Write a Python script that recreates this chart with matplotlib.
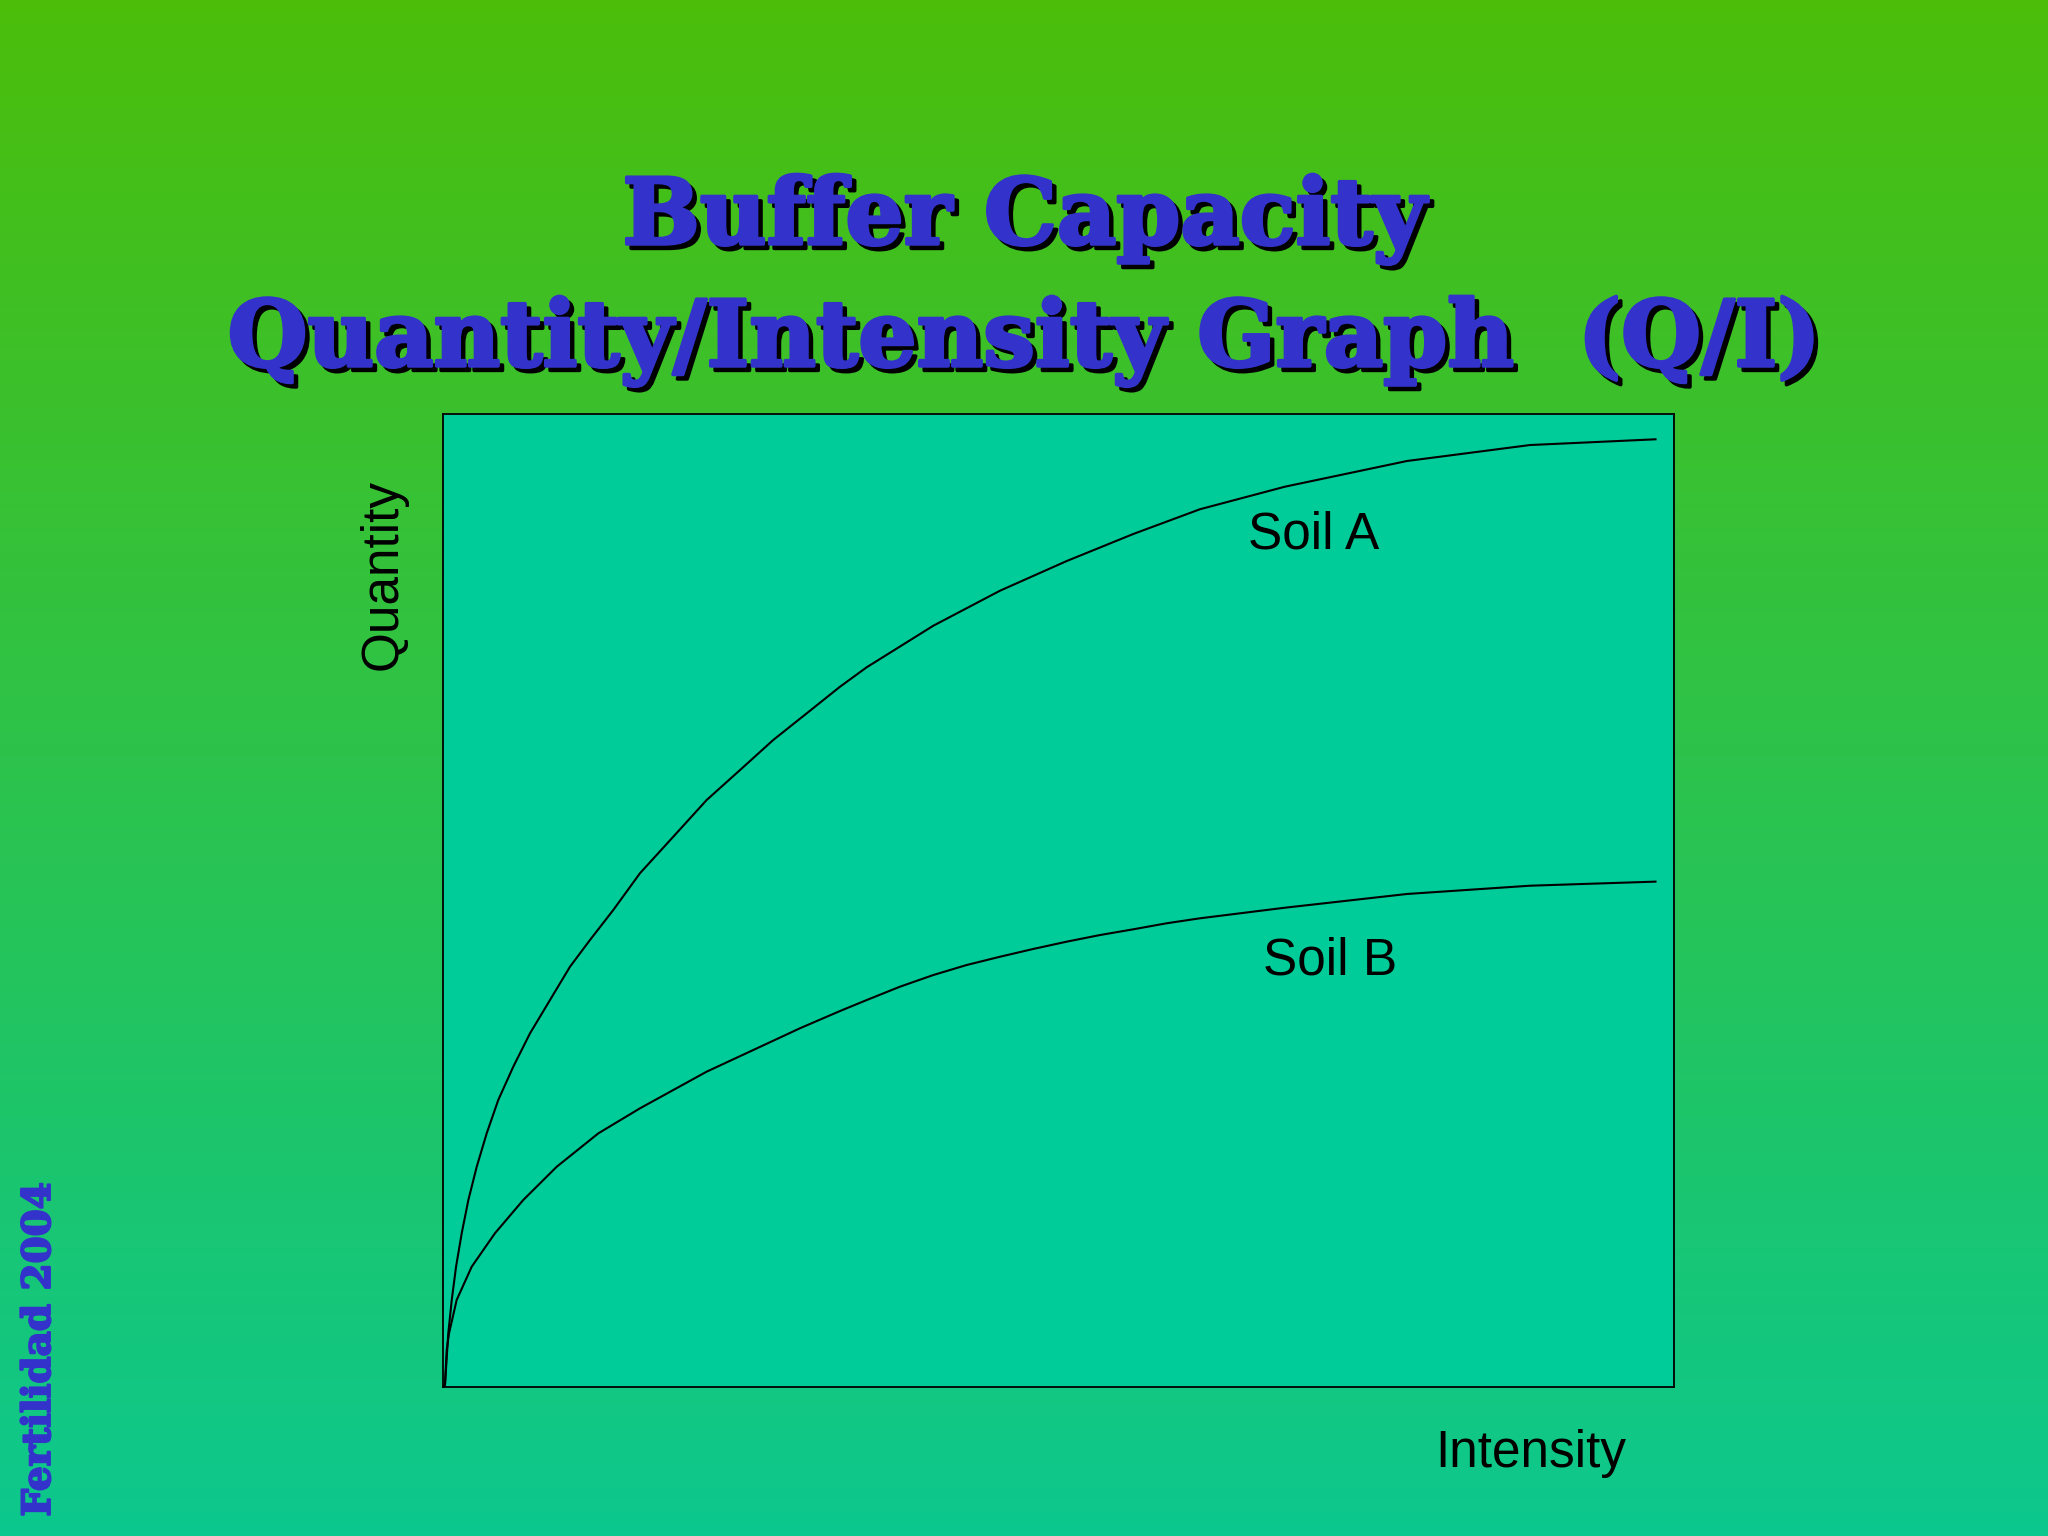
import matplotlib
matplotlib.use('Agg')
import matplotlib.pyplot as plt
import matplotlib.patheffects as pe
import numpy as np
from matplotlib.colors import LinearSegmentedColormap

# Q/I curves (intensity 0-100, quantity 0-100 of the box)
soil_a_x = [0, 0.16, 0.43, 0.71, 1.06, 1.52, 2.06, 2.74, 3.55, 4.49, 5.71, 7.07, 8.69,
            10.32, 11.94, 13.83, 16.00, 18.71, 21.42, 24.13, 26.83, 29.55, 32.25, 34.42,
            39.83, 45.25, 50.67, 56.08, 61.49, 68.40, 78.31, 88.30, 98.50]
soil_a_y = [0, 0.21, 5.52, 8.94, 12.36, 15.80, 19.22, 22.64, 26.07, 29.50, 32.92, 36.35, 39.77,
            43.20, 45.94, 49.02, 52.80, 56.56, 60.33, 63.41, 66.50, 69.24, 71.97, 73.97,
            78.24, 81.84, 84.89, 87.67, 90.21, 92.53, 95.17, 96.81, 97.40]

soil_b_x = [0, 0.16, 0.30, 0.49, 1.11, 2.33, 4.22, 6.52, 9.24, 12.62, 16.00, 21.42, 26.83,
            29.00, 32.25, 34.42, 37.12, 39.83, 42.54, 45.25, 47.95, 50.67, 53.37, 56.08,
            58.79, 61.49, 68.40, 78.31, 88.30, 98.50]
soil_b_y = [0, 0.21, 3.80, 5.52, 8.94, 12.36, 15.80, 19.22, 22.64, 26.07, 28.64, 32.41, 35.59,
            36.87, 38.64, 39.77, 41.14, 42.34, 43.37, 44.22, 45.02, 45.77, 46.45, 47.04,
            47.66, 48.17, 49.26, 50.67, 51.52, 51.94]

labels = ['Soil A', 'Soil B']
label_x = [70.7, 72.1]
label_y = [87.6, 43.8]

title_lines = ['Buffer Capacity', 'Quantity/Intensity Graph  (Q/I)']
footer = 'Fertilidad 2004'

blue = '#3333CC'


def main():
    fig = plt.figure(figsize=(20.48, 15.36), dpi=100)

    # slide background gradient
    bg = fig.add_axes([0, 0, 1, 1], zorder=0)
    cmap = LinearSegmentedColormap.from_list('slide', ['#4CBE0A', '#0CC88E'])
    grad = np.linspace(0, 1, 256).reshape(-1, 1)
    bg.imshow(grad, aspect='auto', cmap=cmap, extent=[0, 1, 0, 1], origin='upper')
    bg.set_axis_off()

    ax = fig.add_axes([443 / 2048, 1 - 1387 / 1536, 1231 / 2048, 973 / 1536], zorder=1)
    ax.set_facecolor('#00CC99')
    ax.plot(soil_a_x, soil_a_y, color='black', lw=1.5, solid_joinstyle='round')
    ax.plot(soil_b_x, soil_b_y, color='black', lw=1.5, solid_joinstyle='round')
    ax.set_xlim(0, 100)
    ax.set_ylim(0, 100)
    ax.set_xticks([])
    ax.set_yticks([])
    for s in ax.spines.values():
        s.set_linewidth(1.3)
        s.set_color('black')

    for lab, lx, ly in zip(labels, label_x, label_y):
        ax.text(lx, ly, lab, fontsize=37, family='Liberation Sans',
                ha='center', va='center')

    fig.text(0.7476, 0.054, 'Intensity', fontsize=37, family='Liberation Sans',
             ha='center', va='center')
    fig.text(0.187, 0.6257, 'Quantity', fontsize=37, family='Liberation Sans',
             rotation=90, ha='center', va='center')

    # heavy title with a black drop shadow
    off = (3.2, -3.2)
    title_fx = [
        pe.SimplePatchShadow(offset=off, shadow_rgbFace='black', alpha=1.0),
        pe.SimpleLineShadow(offset=off, shadow_color='black', alpha=1.0, linewidth=2.5),
        pe.Stroke(linewidth=2.5, foreground=blue),
        pe.Normal(),
    ]
    fig.text(0.5, 1 - 244 / 1536, title_lines[0], fontsize=66, family='DejaVu Serif',
             weight='bold', color=blue, ha='center', va='baseline', path_effects=title_fx)
    fig.text(0.5, 1 - 366 / 1536, title_lines[1], fontsize=66, family='DejaVu Serif',
             weight='bold', color=blue, ha='center', va='baseline', path_effects=title_fx)

    fig.text(0.019, 0.1217, footer, fontsize=28, family='DejaVu Serif', weight='bold',
             color=blue, rotation=90, ha='center', va='center',
             path_effects=[pe.withStroke(linewidth=1.5, foreground=blue)])

    fig.savefig('out.png', dpi=100)


if __name__ == '__main__':
    main()
